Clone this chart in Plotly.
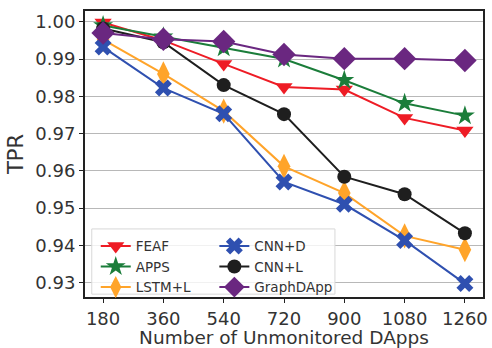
import plotly.graph_objects as go

x_vals = [180, 360, 540, 720, 900, 1080, 1260]
x_labels = ["180", "360", "540", "720", "900", "1080", "1260"]

feaf = [0.9998, 0.9950, 0.9887, 0.9825, 0.9818, 0.9742, 0.9708]
apps = [0.9990, 0.9960, 0.9930, 0.9900, 0.9843, 0.9781, 0.9748]
lstm = [0.9952, 0.9860, 0.9760, 0.9612, 0.9540, 0.9425, 0.9388]
cnnd = [0.9932, 0.9822, 0.9753, 0.9570, 0.9510, 0.9413, 0.9297]
cnnl = [0.9982, 0.9945, 0.9830, 0.9752, 0.9584, 0.9537, 0.9432]
graph = [0.9970, 0.9953, 0.9947, 0.9912, 0.9901, 0.9901, 0.9896]

y_ticks = [0.93, 0.94, 0.95, 0.96, 0.97, 0.98, 0.99, 1.00]
y_labels = ["0.93", "0.94", "0.95", "0.96", "0.97", "0.98", "0.99", "1.00"]

series = [
    ("FEAF", feaf, "#ee1c25", "triangle-down", 15, "legend"),
    ("APPS", apps, "#1b7d3a", "star", 15, "legend"),
    ("LSTM+L", lstm, "#ffa42a", "diamond-tall", 18, "legend"),
    ("CNN+D", cnnd, "#2f50b0", "x", 15, "legend2"),
    ("CNN+L", cnnl, "#1e1e1e", "circle", 14, "legend2"),
    ("GraphDApp", graph, "#6a2780", "diamond", 18, "legend2"),
]

fig = go.Figure()
for name, vals, color, sym, size, lg in series:
    fig.add_trace(go.Scatter(
        x=x_vals, y=vals, name=name, mode="lines+markers",
        line=dict(color=color, width=2),
        marker=dict(symbol=sym, size=size, color=color, line=dict(width=0)),
        legend=lg,
    ))

font_family = "DejaVu Sans"
legend_common = dict(
    bgcolor="rgba(0,0,0,0)", borderwidth=0,
    font=dict(family=font_family, size=13.5, color="#333333"),
    xanchor="left", yanchor="bottom", y=-0.02,
    itemwidth=30, tracegroupgap=0,
)

fig.update_layout(
    width=492, height=348,
    margin=dict(l=85, r=4, t=11, b=43),
    paper_bgcolor="white", plot_bgcolor="white",
    font=dict(family=font_family, color="#333333"),
    showlegend=True,
    legend=dict(x=0.027, **legend_common),
    legend2=dict(x=0.325, **legend_common),
    shapes=[dict(
        type="rect", xref="paper", yref="paper",
        x0=0.017, x1=0.628, y0=0.01, y1=0.238,
        line=dict(color="#d8d8d8", width=1),
        fillcolor="rgba(255,255,255,0.8)", layer="above",
    )],
)

fig.update_xaxes(
    range=[126, 1314], tickvals=x_vals, ticktext=x_labels,
    showgrid=False, zeroline=False,
    showline=True, linecolor="#222222", linewidth=2, mirror=True,
    ticks="outside", ticklen=4, tickcolor="#222222",
    tickfont=dict(size=18, family=font_family, color="#333333"),
    title=dict(text="Number of Unmonitored DApps", standoff=2,
               font=dict(size=18.5, family=font_family, color="#333333")),
)
fig.update_yaxes(
    range=[0.9261, 1.0029], tickvals=y_ticks, ticktext=y_labels,
    showgrid=True, gridcolor="#b8b8b8", gridwidth=1, zeroline=False,
    showline=True, linecolor="#222222", linewidth=2, mirror=True,
    ticks="outside", ticklen=4, tickcolor="#222222",
    tickfont=dict(size=18, family=font_family, color="#333333"),
    title=dict(text="TPR", standoff=6,
               font=dict(size=21, family=font_family, color="#333333")),
)

fig.write_html("out.html")
